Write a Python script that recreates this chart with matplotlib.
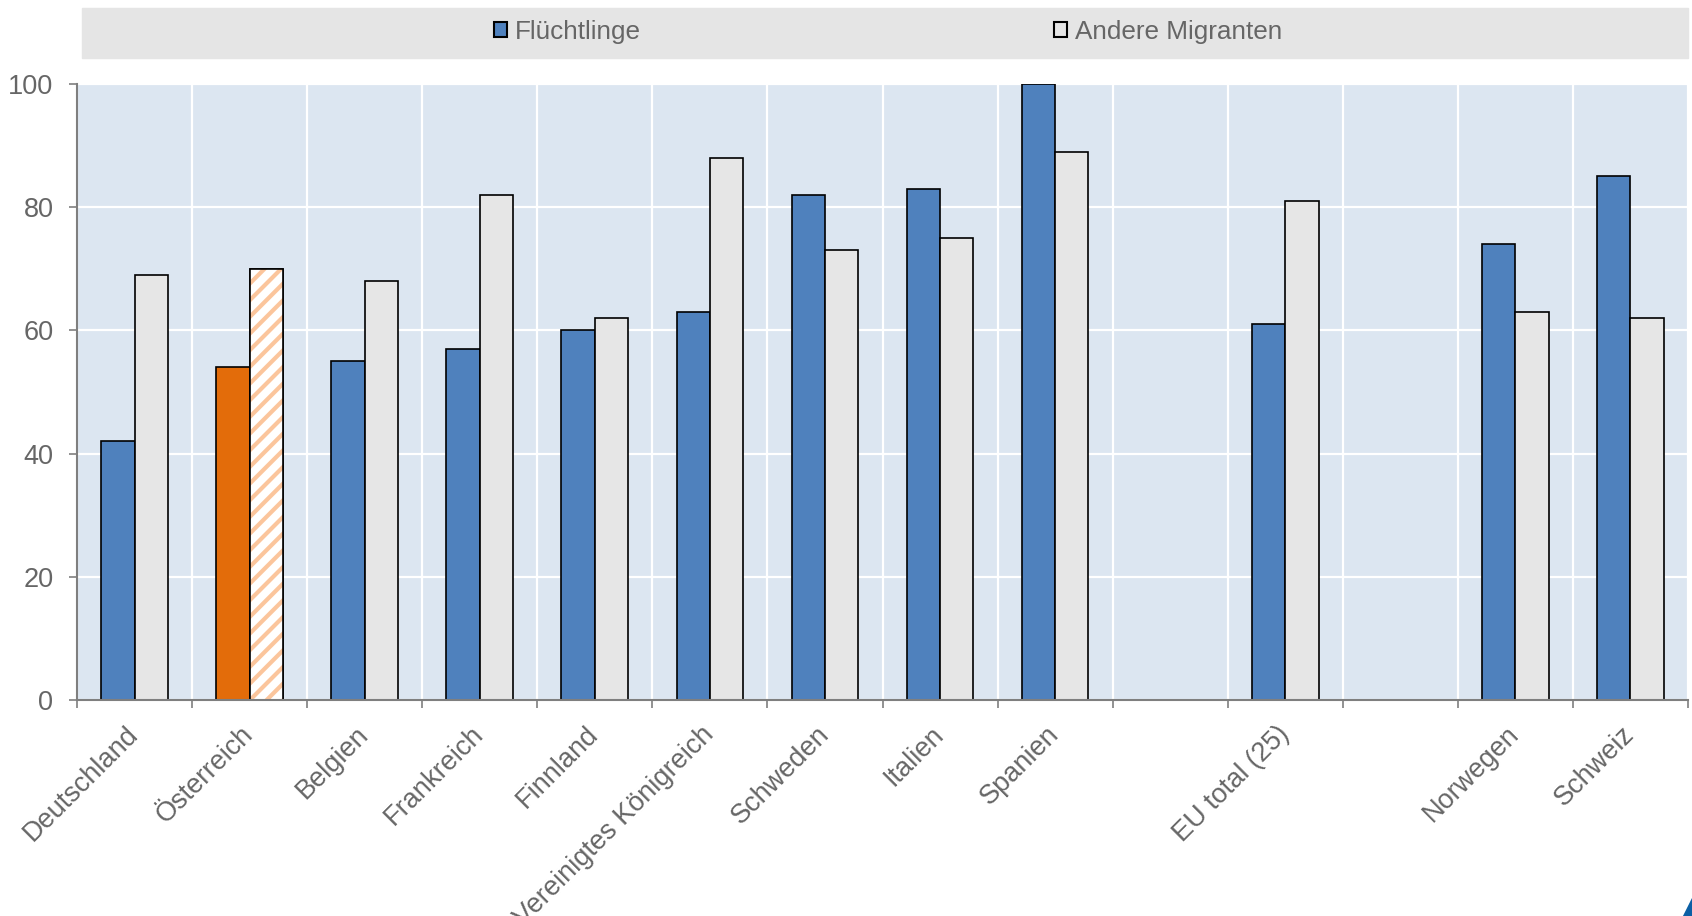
import numpy as np
import matplotlib.pyplot as plt
from matplotlib.patches import Rectangle, Polygon, Patch

plt.rcParams['font.family'] = ['Liberation Sans', 'DejaVu Sans']
plt.rcParams['hatch.linewidth'] = 3.0

# Erwerbstätigenquote nach Migrationsgrund (in %)
laender = ['Deutschland', 'Österreich', 'Belgien', 'Frankreich', 'Finnland',
           'Vereinigtes Königreich', 'Schweden', 'Italien', 'Spanien', '',
           'EU total (25)', '', 'Norwegen', 'Schweiz']
fluechtlinge = [42, 54, 55, 57, 60, 63, 82, 83, 100, np.nan, 61, np.nan, 74, 85]
andere = [69, 70, 68, 82, 62, 88, 73, 75, 89, np.nan, 81, np.nan, 63, 62]
serien = ['Flüchtlinge', 'Andere Migranten']
yticks = [0, 20, 40, 60, 80, 100]

BLUE = '#4f81bd'
GREY = '#e6e6e6'
ORANGE = '#e36c0a'
STRIPE = '#fbc59c'
TXT = '#666666'
AXC = '#7f7f7f'
FS = 19.5

W, H = 1692, 916
fig = plt.figure(figsize=(W / 100, H / 100), dpi=100)
ax = fig.add_axes([77 / W, 1 - 700 / H, (1688 - 77) / W, (700 - 84) / H])
ax.set_facecolor('#dce6f1')

x = np.arange(len(laender)) + 0.5
bw = 0.29
at = laender.index('Österreich')

farben_f = [ORANGE if i == at else BLUE for i in range(len(laender))]
farben_a = ['white' if i == at else GREY for i in range(len(laender))]
ax.bar(x - bw / 2, fluechtlinge, bw, color=farben_f, edgecolor='black', lw=1.2, zorder=3)
ax.bar(x + bw / 2, andere, bw, color=farben_a, edgecolor='black', lw=1.2, zorder=3)
# schraffierter Balken für Österreich
ax.bar(x[at] + bw / 2, andere[at], bw, color='white', hatch='//', edgecolor=STRIPE, lw=0, zorder=4)
ax.bar(x[at] + bw / 2, andere[at], bw, fill=False, edgecolor='black', lw=1.2, zorder=5)

ax.set_xlim(0, len(laender))
ax.set_ylim(0, 100)
ax.set_xticks(np.arange(len(laender) + 1))
ax.set_xticklabels([])
ax.set_xticks(x, minor=True)
ax.set_xticklabels(laender, minor=True, rotation=45, ha='right', va='center',
                   rotation_mode='anchor', fontsize=FS, color=TXT)
ax.set_yticks(yticks)
ax.set_yticklabels([str(v) for v in yticks], fontsize=FS, color=TXT)

ax.tick_params(axis='x', which='minor', length=0, pad=22)
ax.tick_params(axis='x', which='major', length=6, width=1.2, color=AXC)
ax.tick_params(axis='y', length=6, width=1.2, color=AXC, pad=11)

ax.grid(True, which='major', color='white', lw=1.6)
ax.set_axisbelow(True)
for s in ['top', 'right']:
    ax.spines[s].set_visible(False)
for s in ['left', 'bottom']:
    ax.spines[s].set_color(AXC)
    ax.spines[s].set_linewidth(1.5)
    ax.spines[s].set_zorder(6)

# Legendenband
fig.patches.append(Rectangle((82 / W, 1 - 58 / H), (1688 - 82) / W, 50.5 / H,
                             transform=fig.transFigure, color='#e5e5e5', zorder=0))
handles = [Patch(facecolor=BLUE, edgecolor='black', lw=1.5, label=serien[0]),
           Patch(facecolor=GREY, edgecolor='black', lw=1.5, label=serien[1])]
fig.legend(handles=handles, loc='center', bbox_to_anchor=(888 / W, 1 - 32 / H),
           ncol=2, frameon=False, fontsize=18.8, handlelength=0.52, handleheight=0.52,
           handletextpad=0.3, columnspacing=15.8, labelcolor=TXT)

# Logo-Ecke unten rechts
fig.patches.append(Polygon([(1683 / W, 0), (1, 0), (1, 18 / H)], closed=True,
                           transform=fig.transFigure, color='#0b5fa5'))

fig.savefig('out.png', dpi=100)
